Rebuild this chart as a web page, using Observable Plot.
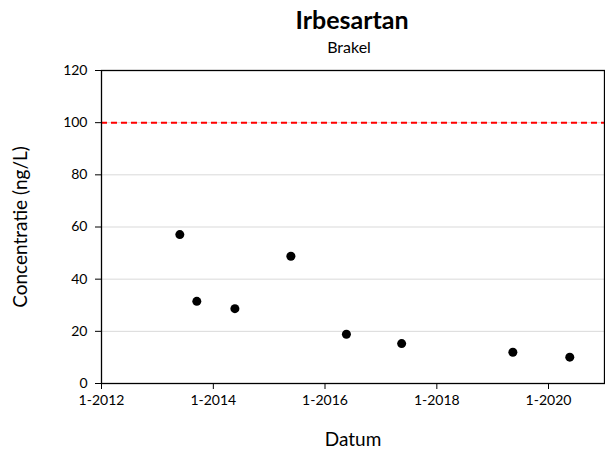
<!DOCTYPE html>
<html>
<head>
<meta charset="utf-8">
<script src="https://cdn.jsdelivr.net/npm/d3@7"></script>
<script src="https://cdn.jsdelivr.net/npm/@observablehq/plot@0.6"></script>
<style>
  html, body { margin: 0; padding: 0; background: #fff; }
  #wrap { width: 605px; height: 455px; font-family: Lato, "Open Sans", sans-serif; }
  #title { height: 34px; line-height: 38px; text-align: center; font-weight: bold; font-size: 25px; color: #000; padding-left: 99px; box-sizing: border-box; }
  #subtitle { height: 24px; line-height: 26px; text-align: center; font-size: 16px; color: #000; padding-left: 93px; box-sizing: border-box; }
</style>
</head>
<body>
<div id="wrap">
  <div id="title">Irbesartan</div>
  <div id="subtitle">Brakel</div>
  <div id="chart"></div>
</div>
<script>
const dates = ["2013-05-27", "2013-09-15", "2014-05-22", "2015-05-23", "2016-05-20", "2017-05-16", "2019-05-13", "2020-05-19"];
const values = [57.1, 31.5, 28.7, 48.8, 18.9, 15.3, 12.0, 10.1];
const xTicks = ["2012-01-01", "2014-01-01", "2016-01-01", "2018-01-01", "2020-01-01"];
const yTicks = [0, 20, 40, 60, 80, 100, 120];
const gridValues = [20, 40, 60, 80, 100];
const limitValue = [100];

const data = dates.map((d, i) => ({date: new Date(d), value: values[i]}));
const fmt = d3.utcFormat("%-m-%Y");

const chart = Plot.plot({
  width: 605,
  height: 397,
  marginTop: 12,
  marginLeft: 101,
  marginRight: 1,
  marginBottom: 72,
  style: {fontFamily: "Lato, 'Open Sans', sans-serif", fontSize: "14px", color: "#000", background: "#fff"},
  x: {type: "utc", domain: [new Date("2012-01-01"), new Date("2021-01-01")]},
  y: {domain: [0, 120]},
  marks: [
    Plot.ruleY(gridValues, {stroke: "#d9d9d9", strokeWidth: 1}),
    Plot.ruleY(limitValue, {stroke: "#ff0000", strokeWidth: 2, strokeDasharray: "6,4"}),
    Plot.frame({stroke: "#000", strokeWidth: 1.3}),
    Plot.axisX({ticks: xTicks.map(d => new Date(d)), tickFormat: fmt, tickSize: 6, tickPadding: 6, fontSize: 14,
      label: "Datum", labelAnchor: "center", labelOffset: 62, labelArrow: "none", stroke: "#000"}),
    Plot.axisY({ticks: yTicks, tickSize: 6, tickPadding: 8, fontSize: 14,
      label: "Concentratie (ng/L)", labelAnchor: "center", labelOffset: 88, labelArrow: "none"}),
    Plot.dot(data, {x: "date", y: "value", r: 4.5, fill: "#000", stroke: "none"})
  ]
});
chart.querySelectorAll("[aria-label='x-axis label'] text, [aria-label='y-axis label'] text").forEach(t => t.style.fontSize = "19px");
document.getElementById("chart").appendChild(chart);
</script>
</body>
</html>
